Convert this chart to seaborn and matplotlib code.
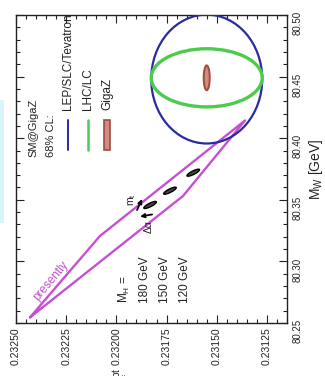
import numpy as np
import matplotlib
matplotlib.use("Agg")
import matplotlib.pyplot as plt
import seaborn as sns
from matplotlib.patches import Ellipse, Rectangle
from matplotlib.transforms import ScaledTranslation
from matplotlib.ticker import MultipleLocator, FormatStrFormatter

# Present-day allowed band in the (M_W, sin^2 theta_eff) plane (outline vertices)
band_mw = [80.2546, 80.3206, 80.4144, 80.3531, 80.2546]
band_s2 = [0.23243, 0.232082, 0.231359, 0.231668, 0.23243]

# SM prediction with GigaZ precision for three Higgs masses
mh_labels = ["180 GeV", "150 GeV", "120 GeV"]
mh_mw = [80.3458, 80.3574, 80.3720]
mh_s2 = [0.231832, 0.231733, 0.231617]

# 68% CL experimental contours: centres and half-widths
exp_names = ["LEP/SLC/Tevatron", "LHC/LC", "GigaZ"]
exp_mw_c = [80.448, 80.449, 80.449]
exp_s2_c = [0.23155, 0.23155, 0.23155]
exp_mw_half = [0.0523, 0.0236, 0.0101]
exp_s2_half = [0.0002765, 0.0002765, 0.000015]

# shifts from parametric uncertainties (tail -> head)
shift_names = ["m$_t$", "\u0394\u03b1"]
shift_tail_mw = [80.3417, 80.3381]
shift_tail_s2 = [0.231897, 0.231822]
shift_head_mw = [80.3506, 80.3364]
shift_head_s2 = [0.231872, 0.231882]

sns.set_theme(style="ticks")
plt.rcParams["font.family"] = ["Liberation Sans", "DejaVu Sans"]
plt.rcParams["mathtext.fontset"] = "custom"
plt.rcParams["mathtext.rm"] = "Liberation Sans"
plt.rcParams["mathtext.it"] = "Liberation Sans:italic"
plt.rcParams["mathtext.bf"] = "Liberation Sans:bold"
plt.rcParams["mathtext.default"] = "regular"

MAGENTA = "#c650d2"
BLUE = "#2b2b9e"
GREEN = "#4ccb4c"
BROWN_EDGE = "#a34a3c"
BROWN_FACE = "#cc8e80"

fig = plt.figure(figsize=(3.25, 3.76), dpi=100)
fig.patch.set_facecolor("white")
ax = fig.add_axes([16 / 325, 53 / 376, 271 / 325, 308 / 376])

# present band
sns.lineplot(x=band_s2, y=band_mw, sort=False, estimator=None, ax=ax,
             color=MAGENTA, lw=1.7, zorder=3)

# experimental contours
styles = [dict(fill=False, edgecolor=BLUE, lw=1.6),
          dict(fill=False, edgecolor=GREEN, lw=2.4),
          dict(facecolor=BROWN_FACE, edgecolor=BROWN_EDGE, lw=1.4)]
for c_s, c_m, hs, hm, st in zip(exp_s2_c, exp_mw_c, exp_s2_half, exp_mw_half, styles):
    ax.add_patch(Ellipse((c_s, c_m), 2 * hs, 2 * hm, zorder=4, **st))

ax.set_xlim(0.23250, 0.23115)
ax.set_ylim(80.25, 80.50)

# small SM ellipses for each Higgs mass
for s, m in zip(mh_s2, mh_mw):
    e = Ellipse((0, 0), 0.14, 0.035, angle=27, facecolor="#444444",
                edgecolor="black", lw=1.0,
                transform=fig.dpi_scale_trans + ScaledTranslation(s, m, ax.transData),
                zorder=5)
    ax.add_artist(e)

for ts, tm, hs, hm in zip(shift_tail_s2, shift_tail_mw, shift_head_s2, shift_head_mw):
    ax.annotate("", xy=(hs, hm), xytext=(ts, tm),
                arrowprops=dict(arrowstyle="-|>", color="black", lw=1.3,
                                mutation_scale=6, shrinkA=0, shrinkB=0), zorder=6)

# axis styling
ax.xaxis.set_major_locator(MultipleLocator(0.00025))
ax.xaxis.set_minor_locator(MultipleLocator(0.00005))
ax.xaxis.set_major_formatter(FormatStrFormatter("%.5f"))
ax.yaxis.set_major_locator(MultipleLocator(0.05))
ax.yaxis.set_minor_locator(MultipleLocator(0.01))
ax.yaxis.set_major_formatter(FormatStrFormatter("%.2f"))
ax.yaxis.tick_right()
ax.yaxis.set_label_position("right")
ax.tick_params(which="both", direction="in", top=True, bottom=True, left=True,
               right=True, labelleft=False, labelright=True, colors="#222222",
               width=0.8)
ax.tick_params(which="major", length=6)
ax.tick_params(which="minor", length=3)
ax.tick_params(axis="x", labelrotation=90, labelsize=7.5, pad=3)
ax.tick_params(axis="y", labelrotation=90, labelsize=7, pad=4)
for sp in ax.spines.values():
    sp.set_linewidth(1.0)
    sp.set_color("#222222")
ax.set_ylabel("M$_W$ [GeV]", fontsize=10, labelpad=3, color="#222222")
ax.set_xlabel("")

# legend, written sideways
tx = dict(transform=ax.transAxes, rotation=90, ha="center", va="bottom",
          color="#222222")
ax.text(0.066, 0.539, "SM@GigaZ", fontsize=8, **tx)
ax.text(0.129, 0.539, "68% CL:", fontsize=8, **tx)
leg_x = [0.192, 0.264, 0.336]
ax.plot([leg_x[0]] * 2, [0.562, 0.659], color=BLUE, lw=1.4, transform=ax.transAxes)
ax.plot([leg_x[1]] * 2, [0.562, 0.659], color=GREEN, lw=1.8, transform=ax.transAxes)
ax.add_patch(Rectangle((leg_x[2] - 0.012, 0.562), 0.024, 0.097, transform=ax.transAxes,
                       facecolor=BROWN_FACE, edgecolor=BROWN_EDGE, lw=1.2))
for x, name in zip(leg_x, exp_names):
    ax.text(x, 0.692, name, fontsize=8.5, **tx)

# Higgs mass labels
ax.text(0.402, 0.065, "M$_H$ =", fontsize=8.5, **tx)
for x, lab in zip([0.476, 0.550, 0.624], mh_labels):
    ax.text(x, 0.065, lab, fontsize=8.5, **tx)

ax.text(0.430, 0.399, shift_names[0], transform=ax.transAxes, rotation=90,
        ha="center", va="center", fontsize=7.5, color="#222222")
ax.text(0.491, 0.312, shift_names[1], transform=ax.transAxes, rotation=90,
        ha="center", va="center", fontsize=7.5, color="#222222")

ax.text(0.128, 0.138, "presently", transform=ax.transAxes, rotation=50,
        ha="center", va="center", fontsize=8.5, color=MAGENTA)

# sin^2 theta axis title sits below the tick labels, running off the bottom edge
fig.text(122 / 325, 1 - 368 / 376, r"sin$^2\theta^{lept}_{eff}$", rotation=90,
         ha="center", va="top", fontsize=10, color="#222222")

fig.add_artist(Rectangle((0, 1 - 223 / 376), 4 / 325, 123 / 376,
                         transform=fig.transFigure, facecolor="#d6f6fb",
                         edgecolor="none", zorder=-1))

fig.savefig("out.png", dpi=100)
